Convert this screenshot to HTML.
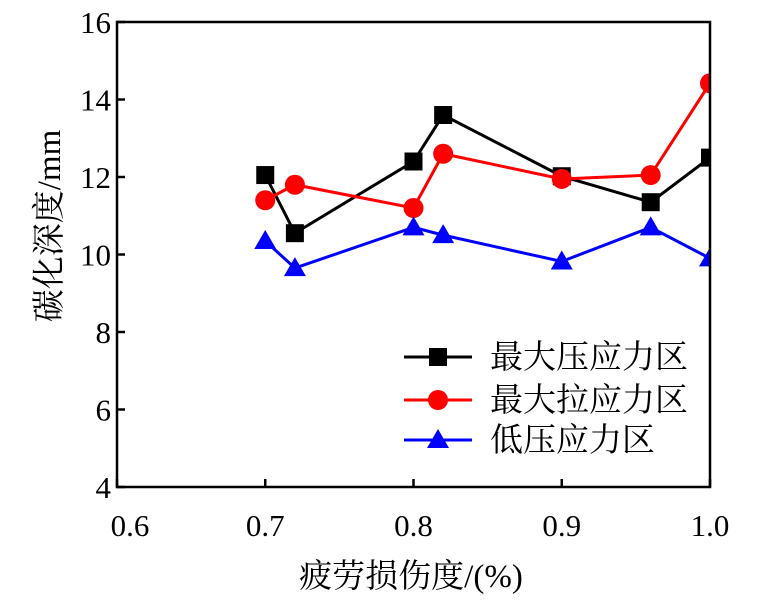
<!DOCTYPE html>
<html><head><meta charset="utf-8"><style>
body{margin:0;background:#fff;}
svg text{font-family:"Liberation Serif","Noto Serif CJK SC",serif;fill:#000;}
</style></head><body>
<svg id="chart" width="777" height="605" xmlns="http://www.w3.org/2000/svg">
<defs><clipPath id="pc"><rect x="117" y="22" width="593" height="465"/></clipPath></defs>
<g id="marks" clip-path="url(#pc)"></g>
<rect x="117" y="22" width="593" height="465" fill="none" stroke="#000" stroke-width="2.5"/>
<g id="axes"></g>
<text transform="translate(60,226) rotate(-90)" text-anchor="middle" font-size="33">碳化深度/mm</text>
<text x="411" y="587" text-anchor="middle" font-size="33">疲劳损伤度/(%)</text>
<g id="legend"></g>
</svg>
<script>
const xs=[0.7,0.72,0.8,0.82,0.9,0.96,1.0];
const maxComp=[12.05,10.55,12.4,13.6,12.02,11.35,12.5];
const maxTens=[11.4,11.8,11.2,12.6,11.95,12.05,14.42];
const lowComp=[10.35,9.65,10.7,10.5,9.82,10.7,9.9];
const xTicks=[0.6,0.7,0.8,0.9,1.0];
const yTicks=[4,6,8,10,12,14,16];
const seriesNames=["最大压应力区","最大拉应力区","低压应力区"];
const NS="http://www.w3.org/2000/svg";
const X=v=>117+(v-0.6)/0.4*593;
const Y=v=>487-(v-4)/12*465;
function mk(t,a,p){const e=document.createElementNS(NS,t);for(const k in a)e.setAttribute(k,a[k]);p.appendChild(e);return e;}
const axes=document.getElementById('axes');
xTicks.forEach((v,i)=>{
 const t=mk('line',{x1:X(v),x2:X(v),y1:487,y2:479,stroke:'#000','stroke-width':2.5},axes);
 
 
 const l=mk('text',{x:X(v)+(i===0?13:0),y:536,'text-anchor':'middle','font-size':31},axes);
 
 
 l.textContent=v.toFixed(1);
});
yTicks.forEach(v=>{
 const t=mk('line',{x1:117,x2:125,y1:Y(v),y2:Y(v),stroke:'#000','stroke-width':2.5},axes);
 
 
 const l=mk('text',{x:111,y:Y(v)+11,'text-anchor':'end','font-size':31},axes);
 
 
 l.textContent=v;
});
function marker(kind,cx,cy,col,p){
 let e;
 if(kind==='sq')e=mk('rect',{x:cx-9,y:cy-9,width:18,height:18,fill:col},p);
 else if(kind==='ci')e=mk('circle',{cx:cx,cy:cy,r:10,fill:col},p);
 else e=mk('polygon',{points:`${cx},${cy-11} ${cx-11},${cy+8} ${cx+11},${cy+8}`,fill:col},p);
 return e;
}
const series=[[maxComp,'#000','sq','max-compression'],[maxTens,'#f00','ci','max-tension'],[lowComp,'#00f','tr','low-compression']];
const marks=document.getElementById('marks');
series.forEach(([vals,col,kind,name])=>{
 const pl=mk('polyline',{points:xs.map((x,i)=>X(x)+','+Y(vals[i])).join(' '),fill:'none',stroke:col,'stroke-width':3},marks);
 
 
 xs.forEach((x,i)=>{
  const m=marker(kind,X(x),Y(vals[i]),col,marks);
  
  
 });
});
const lg=document.getElementById('legend');
const ly=[357,400,440];
series.forEach(([v,col,kind,name],i)=>{
 const g=mk('g',{},lg);
 
 
 mk('line',{x1:404,x2:472,y1:ly[i],y2:ly[i],stroke:col,'stroke-width':3},g);
 marker(kind,438,ly[i],col,g);
 const t=mk('text',{x:490,y:ly[i]+11,'font-size':33},g);
 t.textContent=seriesNames[i];
});
</script>
</body></html>
